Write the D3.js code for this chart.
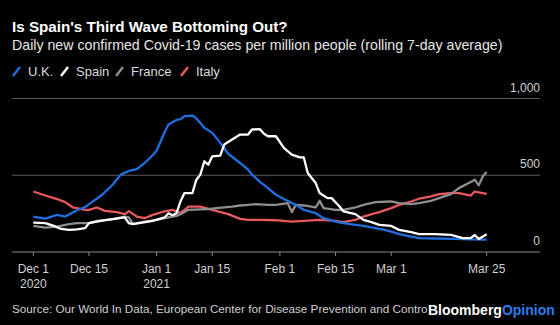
<!DOCTYPE html>
<html>
<head>
<meta charset="utf-8">
<script src="https://cdn.jsdelivr.net/npm/d3@7"></script>
<style>
  html, body { margin: 0; padding: 0; background: #000; }
  svg { display: block; font-family: "Liberation Sans", Arial, sans-serif; }
</style>
</head>
<body>
<div id="chart"></div>
<script>
// days since Dec 1 2020, value (cases per million, 7-day avg)
const ukData = [[0,231],[3,218],[6,242],[8,231],[11,272],[13,292],[15,330],[17,366],[18,390],[20,440],[22,504],[24,528],[26,540],[28,580],[30,630],[31,660],[33,780],[34,830],[36,860],[37,865],[38,885],[40,889],[41,870],[42,841],[43,809],[45,776],[47,711],[49,640],[52,580],[54,536],[55,505],[57,455],[58,438],[61,373],[63,345],[66,307],[68,275],[71,253],[73,220],[76,198],[78,188],[81,177],[83,170],[86,155],[88,145],[90,133],[92,116],[95,100],[97,90],[101,88],[106,86],[110,82],[114,80]];
const spainData = [[0,192],[3,188],[5,172],[7,150],[9,144],[11,148],[13,155],[14,188],[17,203],[20,214],[23,225],[24,188],[25,181],[27,190],[30,203],[33,225],[34,253],[35,240],[36,253],[37,329],[38,384],[40,384],[41,471],[42,504],[43,591],[44,569],[45,623],[47,628],[48,700],[50,733],[52,765],[54,765],[55,798],[57,800],[58,770],[59,754],[61,754],[63,678],[65,634],[67,617],[68,617],[69,515],[71,449],[72,384],[74,351],[75,351],[77,296],[78,264],[81,247],[83,209],[85,195],[87,177],[90,170],[92,144],[95,129],[97,116],[101,116],[105,111],[108,90],[110,90],[111,111],[112,85],[114,116]];
const franceData = [[0,170],[3,159],[6,165],[9,181],[11,188],[14,188],[16,203],[20,214],[23,231],[24,225],[25,183],[28,198],[31,209],[34,225],[36,235],[38,260],[39,275],[42,278],[44,280],[46,286],[50,296],[52,303],[54,307],[56,312],[59,307],[61,307],[64,318],[65,260],[66,307],[68,303],[71,290],[72,333],[73,286],[76,275],[78,275],[81,290],[83,307],[86,325],[90,329],[92,318],[95,312],[97,318],[100,333],[102,351],[105,377],[107,416],[110,456],[111,471],[112,434],[113,492],[114,521]];
const italyData = [[0,394],[3,368],[6,345],[8,325],[10,290],[13,275],[14,275],[16,290],[18,268],[21,260],[23,247],[24,266],[26,231],[28,220],[30,242],[33,264],[35,275],[37,253],[39,296],[42,296],[45,275],[49,247],[52,216],[54,209],[57,209],[61,207],[65,198],[68,203],[72,209],[76,203],[78,194],[81,209],[83,231],[86,253],[87,260],[90,286],[92,307],[95,329],[97,347],[100,362],[102,377],[105,384],[107,384],[110,368],[111,394],[114,379]];

const seriesNames = ["U.K.", "Spain", "France", "Italy"];
const seriesColors = ["#1f6fe0", "#ffffff", "#8e8e8e", "#e8585c"];
const yTicks = [0, 500, 1000];
const xTickDates = ["2020-12-01", "2020-12-15", "2021-01-01", "2021-01-15", "2021-02-01", "2021-02-15", "2021-03-01", "2021-03-25"];
const xTickLabels = [["Dec 1", "2020"], ["Dec 15"], ["Jan 1", "2021"], ["Jan 15"], ["Feb 1"], ["Feb 15"], ["Mar 1"], ["Mar 25"]];

const W = 560, H = 325;
const start = new Date(2020, 11, 1);
const toDate = d => d3.timeDay.offset(start, d);
const parse = d3.timeParse("%Y-%m-%d");

const svg = d3.select("#chart").append("svg")
    .attr("width", W)
    .attr("height", H);
svg.append("rect").attr("width", W).attr("height", H).attr("fill", "#000");

// Titles
svg.append("text").attr("x", 12).attr("y", 32)
    .attr("fill", "#fff").attr("font-size", 15.2).attr("font-weight", "bold")
    .text("Is Spain's Third Wave Bottoming Out?");
svg.append("text").attr("x", 12).attr("y", 50)
    .attr("fill", "#e6e6e6").attr("font-size", 14.2)
    .text("Daily new confirmed Covid-19 cases per million people (rolling 7-day average)");

// Legend
const legendX = [12, 60, 115, 180];
const legend = svg.append("g").attr("transform", "translate(0,72)");
seriesNames.forEach((name, i) => {
    const g = legend.append("g").attr("transform", `translate(${legendX[i]},0)`);
    g.append("line")
        .attr("x1", 1).attr("y1", 4).attr("x2", 8).attr("y2", -5)
        .attr("stroke", seriesColors[i]).attr("stroke-width", 2.5);
    g.append("text").attr("x", 16).attr("y", 4)
        .attr("fill", "#dcdcdc").attr("font-size", 13)
        .text(name);
});

// Scales
const x = d3.scaleTime()
    .domain([toDate(0), toDate(114)])
    .range([33.3, 486.7]);
const y = d3.scaleLinear()
    .domain([0, 1000])
    .range([252, 98.5]);
const gridLeft = 12, gridRight = 540;

// Gridlines + y labels
const grid = svg.append("g");
grid.selectAll("line")
    .data(yTicks.filter(d => d > 0))
    .enter().append("line")
    .attr("x1", gridLeft).attr("x2", gridRight)
    .attr("y1", d => y(d)).attr("y2", d => y(d))
    .attr("stroke", "#5a5a5a").attr("stroke-width", 1);
grid.selectAll("text")
    .data(yTicks)
    .enter().append("text")
    .attr("x", gridRight).attr("y", d => y(d) - 7)
    .attr("text-anchor", "end")
    .attr("fill", "#cfcfcf").attr("font-size", 12)
    .text(d => d3.format(",")(d));

// Lines
const line = d3.line()
    .x(d => x(toDate(d[0])))
    .y(d => y(d[1]));
const allData = [italyData, franceData, ukData, spainData];
const allColors = [seriesColors[3], seriesColors[2], seriesColors[0], seriesColors[1]];
svg.selectAll(".series")
    .data(allData)
    .enter().append("path")
    .attr("class", "series")
    .attr("d", line)
    .attr("fill", "none")
    .attr("stroke", (d, i) => allColors[i])
    .attr("stroke-width", 2.3)
    .attr("stroke-linejoin", "round");

// X axis
svg.append("line")
    .attr("x1", gridLeft).attr("x2", gridRight)
    .attr("y1", y(0)).attr("y2", y(0))
    .attr("stroke", "#8a8a8a").attr("stroke-width", 1);
const ticks = svg.append("g").selectAll("g")
    .data(xTickDates)
    .enter().append("g")
    .attr("transform", d => `translate(${x(parse(d))},${y(0)})`);
ticks.append("line").attr("y1", 0).attr("y2", 4).attr("stroke", "#8a8a8a");
ticks.each(function (d, i) {
    const t = d3.select(this).append("text")
        .attr("text-anchor", "middle")
        .attr("fill", "#d0d0d0").attr("font-size", 12);
    xTickLabels[i].forEach((s, j) => {
        t.append("tspan").attr("x", 0).attr("y", 21 + j * 15).text(s);
    });
});

// Source + logo
svg.append("text").attr("x", 12).attr("y", 313)
    .attr("fill", "#d0d0d0").attr("font-size", 11.7)
    .text("Source: Our World In Data, European Center for Disease Prevention and Control");
const logo = svg.append("g");
logo.append("rect").attr("x", 427).attr("y", 300).attr("width", 130).attr("height", 20).attr("fill", "#000");
logo.append("text").attr("x", 428).attr("y", 315)
    .attr("font-size", 14).attr("font-weight", "bold")
    .call(t => {
        t.append("tspan").attr("fill", "#fff").text("Bloomberg");
        t.append("tspan").attr("fill", "#2b7cf0").text("Opinion");
    });
</script>
</body>
</html>
